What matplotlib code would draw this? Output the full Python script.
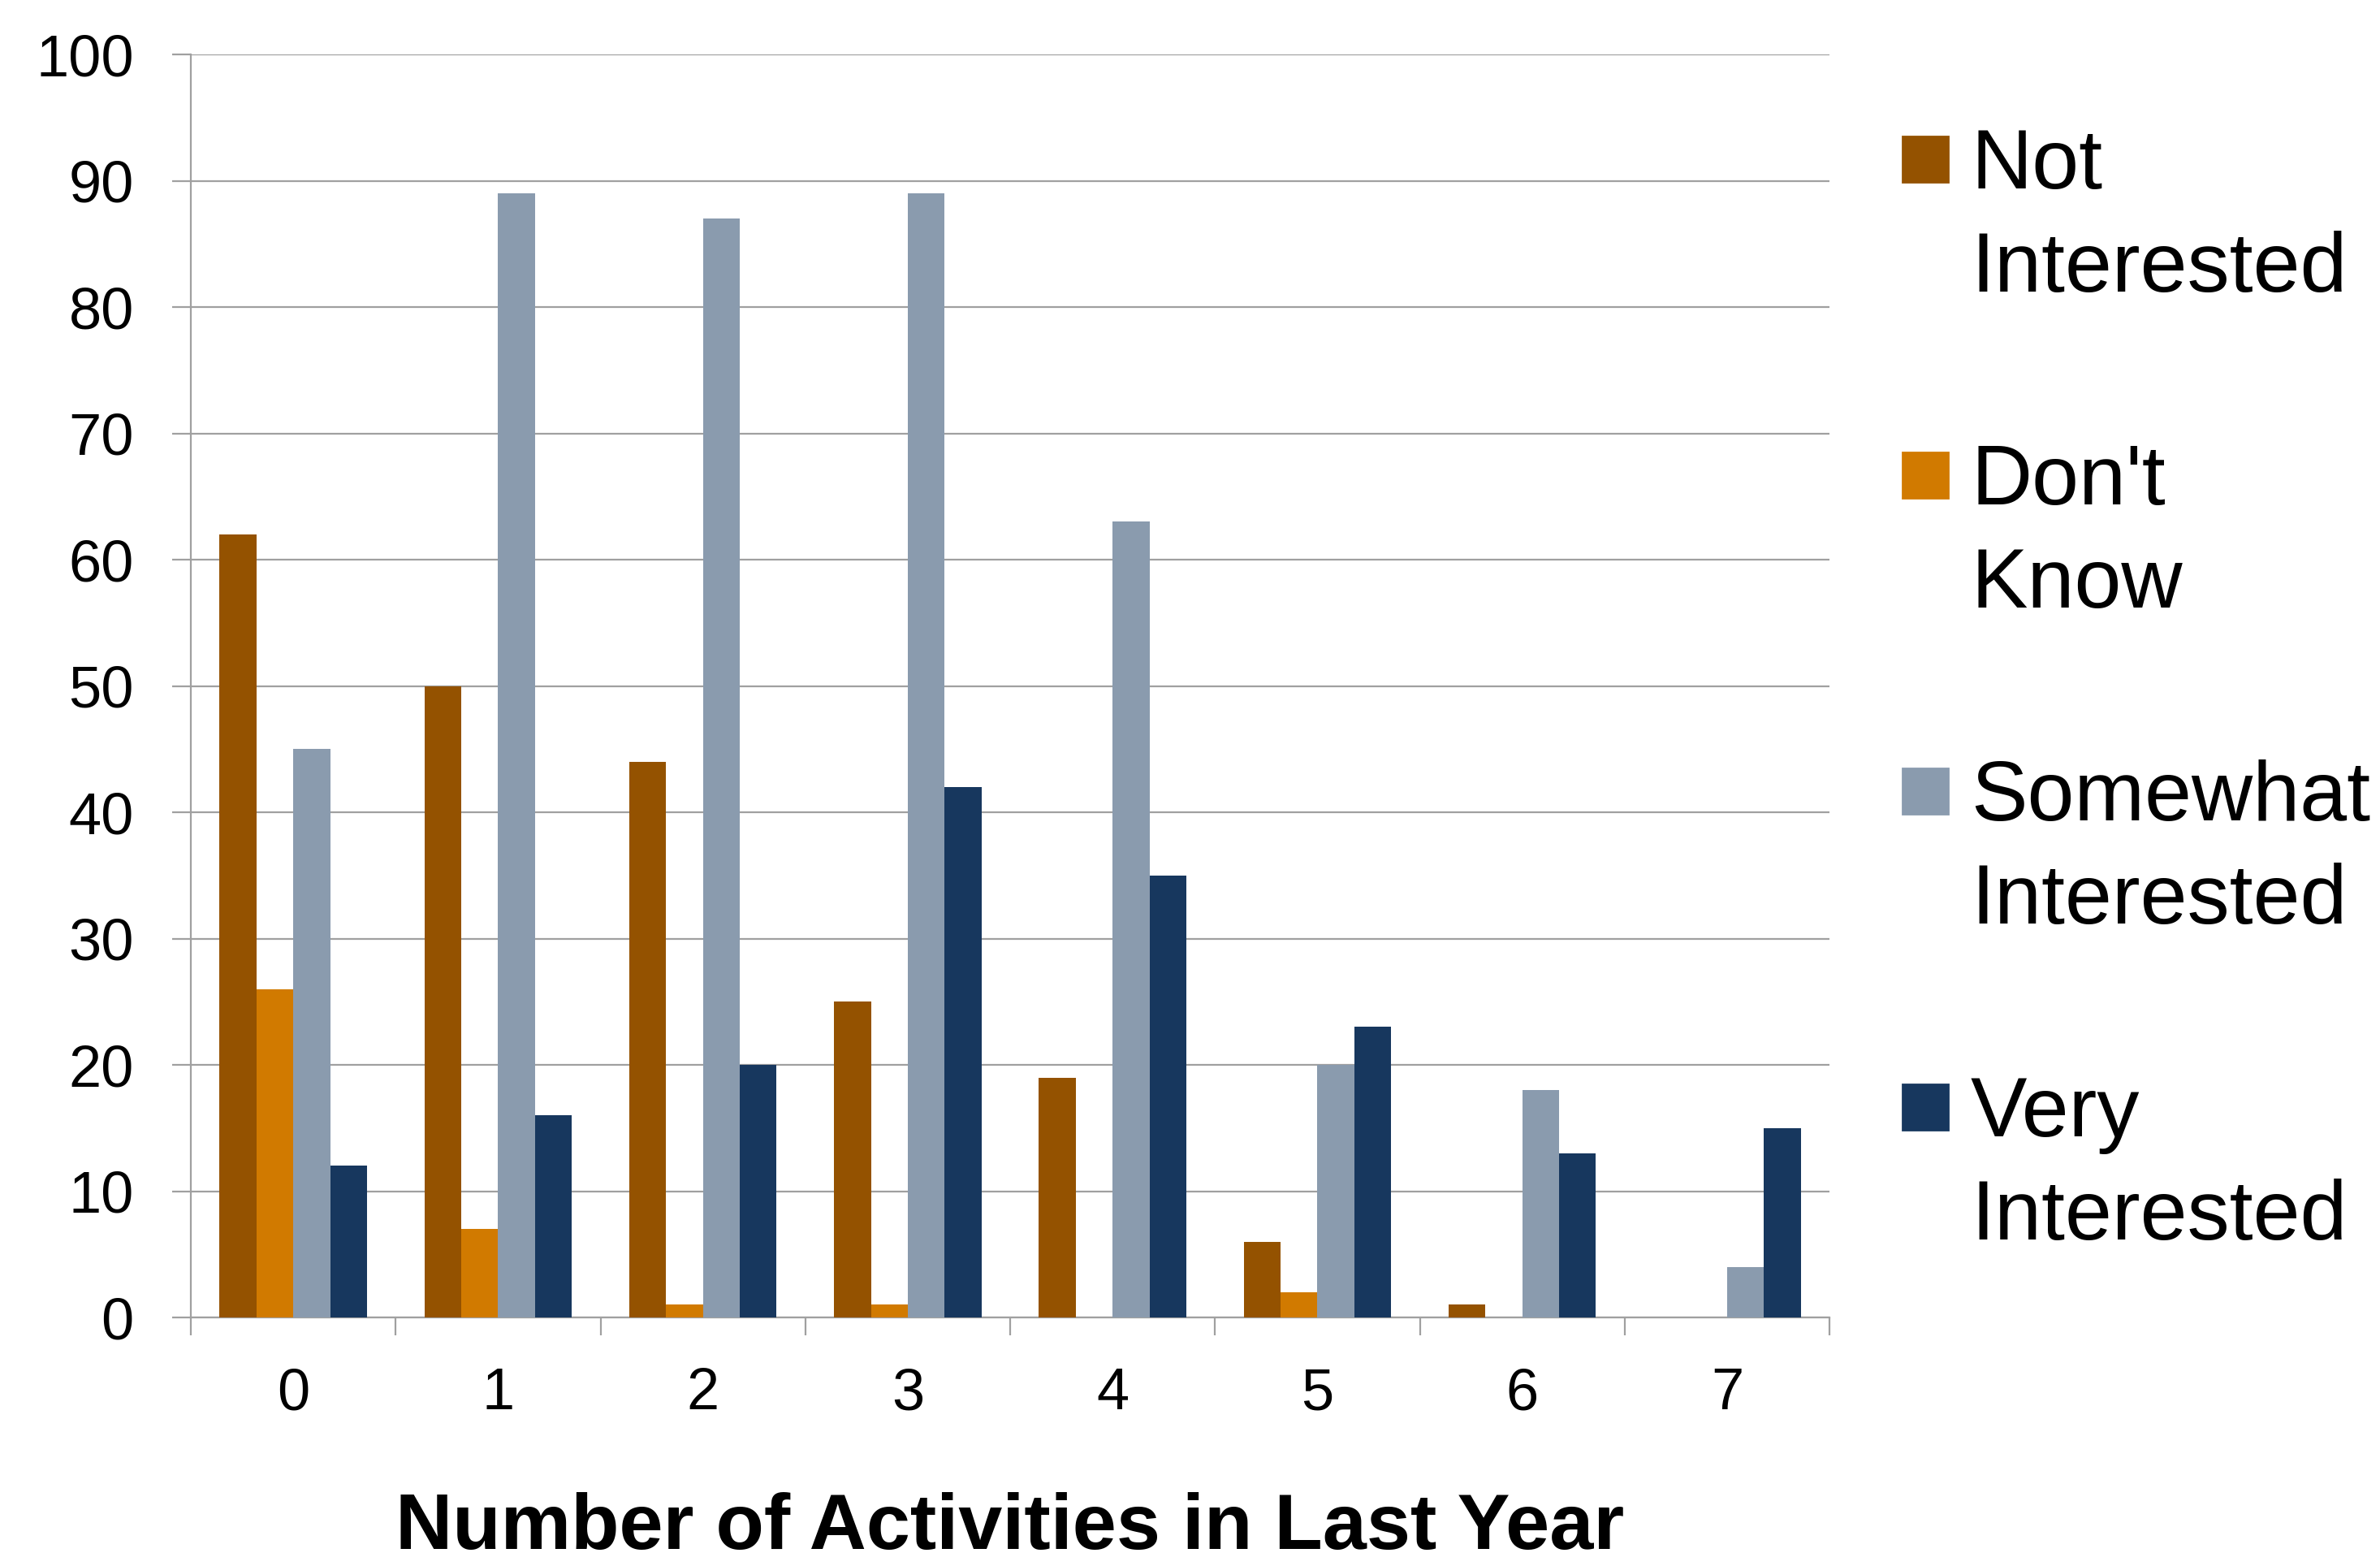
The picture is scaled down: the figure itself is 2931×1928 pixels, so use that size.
import matplotlib
matplotlib.use("Agg")
import numpy as np
import matplotlib.pyplot as plt
from matplotlib.patches import Rectangle

plt.rcParams['font.family'] = ['Liberation Sans', 'DejaVu Sans']

categories = ['0', '1', '2', '3', '4', '5', '6', '7']
series_names = ['Not\nInterested', "Don't\nKnow", 'Somewhat\nInterested', 'Very\nInterested']
not_interested = [62, 50, 44, 25, 19, 6, 1, 0]
dont_know = [26, 7, 1, 1, 0, 2, 0, 0]
somewhat_interested = [45, 89, 87, 89, 63, 20, 18, 4]
very_interested = [12, 16, 20, 42, 35, 23, 13, 15]
colors = ['#945200', '#D17A00', '#8A9BAE', '#17375E']

series = [not_interested, dont_know, somewhat_interested, very_interested]

fig = plt.figure(figsize=(14.655, 9.64), dpi=200)
ax = fig.add_axes([0.0802, 0.1587, 0.6885, 0.8065])

x = np.arange(len(categories))
w = 0.18
for i, vals in enumerate(series):
    ax.bar(x + (i - 1.5) * w, vals, w, color=colors[i], zorder=3)

grid_col = '#A0A0A0'
ax.set_xlim(-0.5, len(categories) - 0.5)
ax.set_ylim(0, 100)
ax.set_yticks(np.arange(0, 101, 10))
ax.yaxis.grid(True, color=grid_col, linewidth=0.8, zorder=0)
ax.tick_params(axis='y', direction='out', length=8.3, width=0.8, color=grid_col,
               pad=17, labelsize=26)
ax.set_xticks(x)
ax.set_xticklabels(categories)
ax.tick_params(axis='x', which='major', length=0, pad=22, labelsize=26)
ax.set_xticks(np.arange(-0.5, len(categories)), minor=True)
ax.tick_params(axis='x', which='minor', direction='out', length=8, width=0.8, color=grid_col)
for s in ['top', 'right']:
    ax.spines[s].set_visible(False)
for s in ['left', 'bottom']:
    ax.spines[s].set_color(grid_col)
    ax.spines[s].set_linewidth(0.8)

fig.text(0.0802 + 0.6885 / 2, 0.011, 'Number of Activities in Last Year',
         ha='center', va='baseline', fontsize=35, fontweight='bold')

# legend drawn by hand so the square sits on the first line
H, W = 1928.0, 2931.0
for i, name in enumerate(series_names):
    base = 234 + 389 * i
    fig.patches.append(Rectangle((2343 / W, 1 - (base - 10) / H), 56 / W, 56 / H,
                                 transform=fig.transFigure, color=colors[i]))
    # baseline alignment uses the last line, so place it one line lower
    fig.text(2427 / W, 1 - (base + 125) / H, name, ha='left', va='baseline',
             fontsize=37.5, linespacing=1.4)

fig.savefig('out.png', dpi=200)
